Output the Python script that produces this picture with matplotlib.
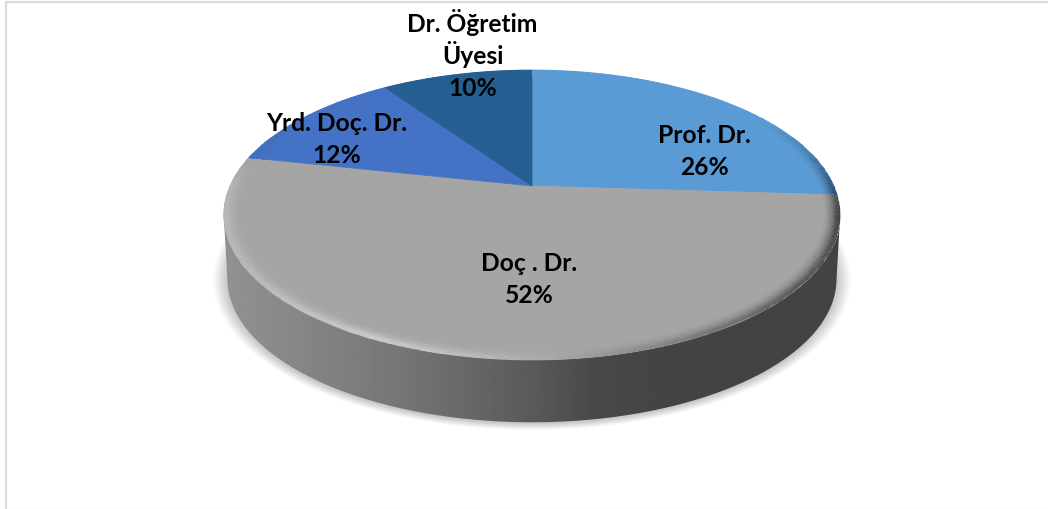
import numpy as np
import matplotlib
matplotlib.use("Agg")
import matplotlib.pyplot as plt
from matplotlib.colors import to_rgb
from matplotlib.patches import PathPatch
from matplotlib.path import Path

labels = ["Prof. Dr.", "Doç . Dr.", "Yrd. Doç. Dr.", "Dr. Öğretim\nÜyesi"]
# read from the slice edges, the labels show them rounded
values = [26.0, 52.4, 12.0, 9.6]
colors = ["#5B9BD5", "#A5A5A5", "#4472C4", "#255E91"]
# x centre and baseline of the last line of each label
label_pos = [(704.5, 175), (529, 303), (337, 163), (472.5, 96)]

# pie apex and perspective of the tilted disc, in pixels
cx, cy = 532, 186
a, b, k = 302, 139.2, 0.2
depth = 64

plt.rcParams["font.family"] = ["Lato", "DejaVu Sans"]


def project(theta, r=1.0, dy=0.0, scale=1.0):
    # theta in radians clockwise from the top, unit circle to picture
    x = r * np.sin(theta)
    y = r * np.cos(theta)
    w = 1 + k * y
    return cx + scale * a * x / w, cy - scale * b * y / w + dy + (1 - scale) * 32


fig = plt.figure(figsize=(10.48, 5.09), dpi=100)
ax = fig.add_axes([0, 0, 1, 1])
ax.set_xlim(0, 1048)
ax.set_ylim(509, 0)
ax.axis("off")

# chart frame
ax.plot([5.5, 5.5, 1048], [509, 1.5, 1.5], color="#dcdcdc", lw=1.6, zorder=1)
ax.plot([5.5, 1048], [508.5, 508.5], color="#f0f0f0", lw=1, zorder=1)

# soft shadow under the disc
circle = np.linspace(0, 2 * np.pi, 721)
for s in np.linspace(1.035, 0.99, 14):
    sx, sy = project(circle, dy=depth + 1, scale=s)
    ax.fill(sx, sy, color="black", alpha=0.015, lw=0, zorder=2)

# side wall with horizontal gradient, widest points of the rim at y = -k
widest = np.arccos(-k)
lower = np.linspace(widest, 2 * np.pi - widest, 400)
top_x, top_y = project(lower)
bot_x, bot_y = project(lower, dy=depth, scale=0.988)
wall_x = np.r_[top_x, bot_x[::-1]]
wall_y = np.r_[top_y, bot_y[::-1]]
wall = PathPatch(Path(np.c_[wall_x, wall_y]), fc="none", ec="none", transform=ax.transData)
ax.add_patch(wall)
stops_x = [222, 300, 400, 530, 600, 680, 845]
stops_c = [146, 134, 118, 90, 72, 67, 67]
shade = np.interp(np.arange(200, 860), stops_x, stops_c) / 255
img = ax.imshow(shade[None, :], extent=(200, 860, 440, 190), cmap="gray", vmin=0, vmax=1,
                aspect="auto", zorder=3, interpolation="bilinear")
img.set_clip_path(wall)
ax.set_xlim(0, 1048)
ax.set_ylim(509, 0)

# top face
bounds = np.radians(np.r_[0, np.cumsum(values)] * 3.6)
for i, color in enumerate(colors):
    t = np.linspace(bounds[i], bounds[i + 1], 200)
    px, py = project(t)
    ax.fill(np.r_[cx, px], np.r_[cy, py], color=color, ec=color, lw=0.5, zorder=4)

# bevel round the rim, lit from the lower left
n_t, n_r = 720, 16
tt = np.linspace(0, 2 * np.pi, n_t + 1)
rr = np.linspace(0.94, 1.0, n_r + 1)
T, R = np.meshgrid(tt, rr)
mx, my = project(T, R)
deg = np.degrees((tt[:-1] + tt[1:]) / 2)
light = np.interp(deg, [0, 60, 90, 102, 130, 150, 175, 205, 235, 270, 285, 300, 360],
                  [1, 1, 0.55, 0.42, 0.45, 0.65, 1.0, 1.28, 1.15, 1.1, 0.95, 1, 1])
base = np.array([to_rgb(colors[min(np.searchsorted(bounds, np.radians(d)) - 1, 3)]) for d in deg])
radial = (np.linspace(0, 1, n_r) / 0.85).clip(0, 1)[:, None] ** 2
rgb = base[None, :, :] * (1 + (light[None, :] - 1) * radial)[:, :, None]
ax.pcolormesh(mx, my, rgb.clip(0, 1), shading="flat", zorder=5, antialiased=True, lw=0)

# labels, one text per line so the line step stays even
line_step = 32
for name, value, (lx, ly) in zip(labels, values, label_pos):
    lines = name.split("\n") + [f"{value:.0f}%"]
    for i, line in enumerate(lines):
        ax.text(lx, ly - (len(lines) - 1 - i) * line_step, line, ha="center", va="baseline",
                fontsize=17.7, fontweight="bold", color="black", zorder=6)

fig.savefig("out.png", dpi=100)
